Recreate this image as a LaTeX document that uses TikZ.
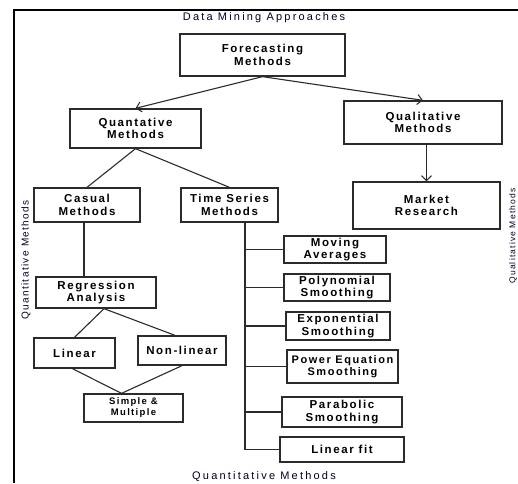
\documentclass[tikz,border=0pt]{standalone}
\usepackage{fontspec}
\setmainfont{Liberation Sans}
\newfontfamily\boxfont[LetterSpace=14]{Liberation Sans}
\newfontfamily\capfont[LetterSpace=20]{Liberation Sans}
\usetikzlibrary{arrows.meta}
\definecolor{ink}{HTML}{2B2B2B}
\tikzset{
  box/.style={draw=ink, line width=1.3pt, inner sep=0pt, align=center,
    font={\boxfont\bfseries\fontsize{11.5}{12.5}\selectfont}, text=black},
  conn/.style={draw=ink, line width=1.1pt},
  arr/.style={conn, -{Straight Barb[length=5pt,width=10pt,line width=1pt]}},
  captext/.style={font={\capfont\fontsize{11}{13}\selectfont}, text=black!85!blue, inner sep=0pt}
}
\begin{document}
\begin{tikzpicture}[x=1pt,y=-1pt]
\useasboundingbox (0,0) rectangle (518,483);
\fill[white] (0,0) rectangle (518,483);
% frame
\draw[line width=2.4pt, black] (14,483) -- (14,10) -- (518,10);
% captions
\node[captext] (top) at (264,18) {Data Mining Approaches};
\node[captext] (bot) at (264,477) {Quantitative Methods};
\node[captext, rotate=90, font={\boxfont\fontsize{10}{12}\selectfont}] (lside) at (26,260) {Quantitative Methods};
\node[captext, rotate=90, font={\boxfont\fontsize{8.5}{10}\selectfont}] (rside) at (513,236) {Qualitative Methods};
% boxes
\node[box, minimum width=165pt, minimum height=42pt] (fm) at (262.5,55) {Forecasting\\Methods};
\node[box, minimum width=131pt, minimum height=39pt] (qm) at (135.5,128.5) {Quantative\\Methods};
\node[box, minimum width=158pt, minimum height=43pt] (ql) at (423,122.5) {Qualitative\\Methods};
\node[box, minimum width=106pt, minimum height=34pt] (cm) at (87,205) {Casual\\Methods};
\node[box, minimum width=97pt, minimum height=34pt] (ts) at (229.5,205) {Time Series\\Methods};
\node[box, minimum width=147pt, minimum height=47pt] (mr) at (426.5,205.5) {Market\\Research};
\node[box, minimum width=120pt, minimum height=31pt] (ra) at (96,292.5) {Regression\\Analysis};
\node[box, minimum width=81pt, minimum height=30pt] (li) at (74.5,353) {Linear};
\node[box, minimum width=88pt, minimum height=29pt] (nl) at (182,350.5) {Non-linear};
\node[box, minimum width=99pt, minimum height=28pt, font={\boxfont\bfseries\fontsize{9.5}{11}\selectfont}] (sm) at (133.5,408) {Simple \&\\Multiple};
\node[box, minimum width=102pt, minimum height=27pt] (ma) at (335,249.5) {Moving\\Averages};
\node[box, minimum width=106pt, minimum height=27pt] (ps) at (337,287.5) {Polynomial\\Smoothing};
\node[box, minimum width=104pt, minimum height=28pt] (es) at (338,326) {Exponential\\Smoothing};
\node[box, minimum width=111pt, minimum height=33pt, font={\boxfont\bfseries\fontsize{11}{12.5}\selectfont}] (pe) at (342.5,366.5) {Power Equation\\Smoothing};
\node[box, minimum width=120pt, minimum height=30pt] (pb) at (342,412) {Parabolic\\Smoothing};
\node[box, minimum width=124pt, minimum height=25pt] (lf) at (342,449.5) {Linear fit};
% connectors
\draw[arr] (fm.south) -- (qm.north);
\draw[arr] (fm.south) -- (ql.north);
\draw[arr] (mr.north |- ql.south) -- (mr.north);
\draw[conn] (qm.south) -- (cm.north);
\draw[conn] (qm.south) -- (ts.north);
\draw[conn] ([xshift=-3pt]cm.south) -- ([xshift=-3pt]cm.south |- ra.north);
\coordinate (rab) at ([xshift=8pt]ra.south);
\draw[conn] (rab) -- (li.north);
\draw[conn] (rab) -- ([xshift=-7pt]nl.north);
\coordinate (smt) at ([xshift=-12pt]sm.north);
\draw[conn] ([xshift=-2pt]li.south) -- (smt);
\draw[conn] (nl.south) -- (smt);
\coordinate (tk) at ([xshift=15.5pt]ts.south);
\draw[conn] (tk) |- (lf.west);
\foreach \b in {ma,ps,es,pe,pb}{
  \draw[conn] (tk |- \b.west) -- (\b.west);
}
\end{tikzpicture}
\end{document}
